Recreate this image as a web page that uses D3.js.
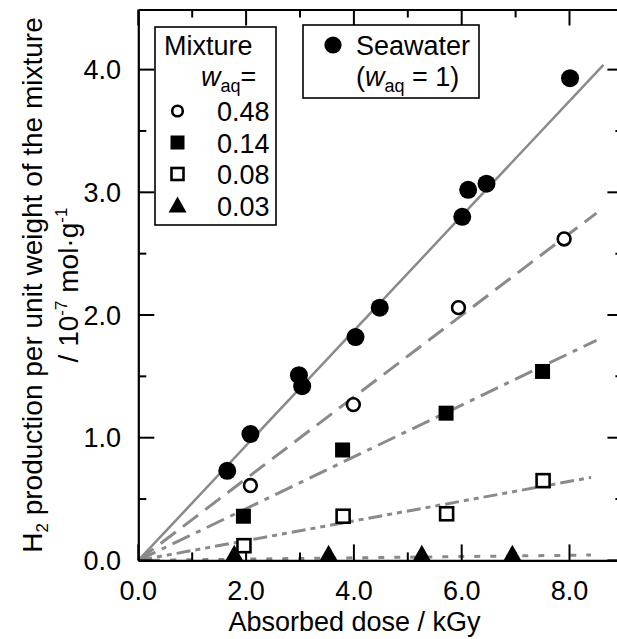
<!DOCTYPE html>
<html><head><meta charset="utf-8">
<script src="https://cdn.jsdelivr.net/npm/d3@7"></script>
<style>
html,body{margin:0;padding:0;background:#fff;}
svg{display:block;font-family:"Liberation Sans",Arial,Helvetica,sans-serif;}
</style></head>
<body>
<svg id="c" width="617" height="639"></svg>
<script>
// ---- data ----
const seaX = [1.65, 2.08, 2.98, 3.04, 4.03, 4.48, 6.01, 6.12, 6.46, 8.01];
const seaY = [0.73, 1.03, 1.51, 1.42, 1.82, 2.06, 2.80, 3.02, 3.07, 3.93];
const w48X = [2.08, 3.99, 5.94, 7.90];
const w48Y = [0.61, 1.27, 2.06, 2.62];
const w14X = [1.95, 3.79, 5.71, 7.50];
const w14Y = [0.36, 0.90, 1.20, 1.54];
const w08X = [1.96, 3.80, 5.72, 7.51];
const w08Y = [0.12, 0.36, 0.38, 0.65];
const w03X = [1.78, 3.53, 5.26, 6.94];
const w03Y = [0.04, 0.04, 0.04, 0.04];
const fitNames = ["1", "0.48", "0.14", "0.08", "0.03"];
const fitSlopes = [0.468, 0.333, 0.211, 0.0805, 0.0052];
const fitEndX = [8.63, 8.5, 8.5, 8.4, 8.4];
const xTicks = [0, 2, 4, 6, 8];
const yTicks = [0, 1, 2, 3, 4];
const legendLabels = ["0.48", "0.14", "0.08", "0.03"];

// ---- layout ----
const svg = d3.select("#c");
const L = 138.3, R = 623.4, T = 9.5, B = 560.4;
const x = d3.scaleLinear().domain([0, 9]).range([L, R]);
const y = d3.scaleLinear().domain([0, 4.49]).range([B, T]);
const grey = "#8a8a8a";
const fs = 27;

// fit lines
const dashes = [null, "19,9", "19,7,5,7", "14,5,5,5,5,5", "6,10"];
fitSlopes.forEach((s, i) => {
  const pts = [[0, 0], [fitEndX[i], s * fitEndX[i]]];
  svg.append("path")
    .attr("d", d3.line().x(d => x(d[0])).y(d => y(d[1]))(pts))
    .attr("stroke", grey).attr("stroke-width", i === 0 ? 2.5 : 3)
    .attr("fill", "none")
    .attr("stroke-dasharray", dashes[i]);
});

// axes frame
const gB = svg.append("g").attr("transform", `translate(0,${B})`)
  .call(d3.axisBottom(x).tickValues(d3.range(0, 10, 1)).tickSize(0).tickFormat(""));
const gT = svg.append("g").attr("transform", `translate(0,${T})`)
  .call(d3.axisTop(x).tickValues([]).tickSize(0));
const gL = svg.append("g").attr("transform", `translate(${L},0)`)
  .call(d3.axisLeft(y).tickValues([]).tickSize(0));
const gR = svg.append("g").attr("transform", `translate(${R},0)`)
  .call(d3.axisRight(y).tickValues([]).tickSize(0));
[gB, gT, gL, gR].forEach(g => {
  g.select(".domain").attr("stroke", "#000").attr("stroke-width", 2.2);
  g.selectAll(".tick").remove();
});

// ticks (inward, major + minor)
const xt = d3.range(0, 10, 1);
const yt = d3.range(0, 4.5, 0.5);
const tk = svg.append("g").attr("stroke", "#000").attr("stroke-width", 2);
xt.forEach(v => {
  const len = (v % 2 === 0) ? 16 : 8;
  tk.append("line").attr("x1", x(v)).attr("x2", x(v)).attr("y1", B).attr("y2", B - len);
  tk.append("line").attr("x1", x(v)).attr("x2", x(v)).attr("y1", T).attr("y2", T + len);
});
yt.forEach(v => {
  const len = (Math.abs(v - Math.round(v)) < 1e-6) ? 16 : 8;
  tk.append("line").attr("x1", L).attr("x2", L + len).attr("y1", y(v)).attr("y2", y(v));
  tk.append("line").attr("x1", R).attr("x2", R - len).attr("y1", y(v)).attr("y2", y(v));
});

// tick labels
svg.append("g").selectAll("text").data(xTicks).join("text")
  .attr("x", d => x(d)).attr("y", 599.5).attr("text-anchor", "middle")
  .attr("font-size", fs).text(d => d.toFixed(1));
svg.append("g").selectAll("text").data(yTicks).join("text")
  .attr("x", 121).attr("y", d => y(d) + 9.5).attr("text-anchor", "end")
  .attr("font-size", fs).text(d => d.toFixed(1));

// axis titles
svg.append("text").attr("x", 354.5).attr("y", 631).attr("text-anchor", "middle")
  .attr("font-size", fs).text("Absorbed dose / kGy");

const yl1 = svg.append("text").attr("transform", "translate(42,285) rotate(-90)")
  .attr("text-anchor", "middle").attr("font-size", 28);
yl1.append("tspan").text("H");
yl1.append("tspan").attr("font-size", 17).attr("dy", 6).text("2");
yl1.append("tspan").attr("dy", -6).text(" production per unit weight of the mixture");

const yl2 = svg.append("text").attr("transform", "translate(78,285) rotate(-90)")
  .attr("text-anchor", "middle").attr("font-size", 28);
yl2.append("tspan").text("/ 10");
yl2.append("tspan").attr("font-size", 17).attr("dy", -11).text("-7");
yl2.append("tspan").attr("dy", 11).text(" mol\u00B7g");
yl2.append("tspan").attr("font-size", 17).attr("dy", -11).text("-1");

// markers
function circles(xs, ys, r, filled) {
  svg.append("g").selectAll("circle").data(xs.map((v, i) => [v, ys[i]])).join("circle")
    .attr("cx", d => x(d[0])).attr("cy", d => y(d[1])).attr("r", r)
    .attr("fill", filled ? "#000" : "#fff").attr("stroke", "#000")
    .attr("stroke-width", filled ? 0 : 2.6);
}
function squares(xs, ys, s, filled) {
  svg.append("g").selectAll("rect").data(xs.map((v, i) => [v, ys[i]])).join("rect")
    .attr("x", d => x(d[0]) - s / 2).attr("y", d => y(d[1]) - s / 2)
    .attr("width", s).attr("height", s)
    .attr("fill", filled ? "#000" : "#fff").attr("stroke", "#000")
    .attr("stroke-width", filled ? 0 : 2.6);
}
function triangles(xs, ys, w, h) {
  svg.append("g").selectAll("path").data(xs.map((v, i) => [v, ys[i]])).join("path")
    .attr("d", d => {
      const cx = x(d[0]), cy = y(d[1]);
      return `M${cx},${cy - h * 2 / 3}L${cx + w / 2},${cy + h / 3}L${cx - w / 2},${cy + h / 3}Z`;
    }).attr("fill", "#000");
}
triangles(w03X, w03Y, 18, 16);
squares(w08X, w08Y, 13, false);
squares(w14X, w14Y, 15, true);
circles(w48X, w48Y, 6.4, false);
circles(seaX, seaY, 9, true);

// legend: Mixture box
const lg = svg.append("g");
lg.append("rect").attr("x", 155).attr("y", 27).attr("width", 121).attr("height", 198)
  .attr("fill", "#fff").attr("stroke", "#000").attr("stroke-width", 1.6);
lg.append("text").attr("x", 164).attr("y", 55).attr("font-size", fs).text("Mixture");
const wl = lg.append("text").attr("x", 201).attr("y", 86).attr("font-size", fs);
wl.append("tspan").attr("font-style", "italic").text("w");
wl.append("tspan").attr("font-size", 18).attr("dy", 6).text("aq");
wl.append("tspan").attr("dy", -6).text("=");
const rowBase = [121, 152.5, 184, 215.5];
legendLabels.forEach((t, i) => {
  lg.append("text").attr("x", 217).attr("y", rowBase[i]).attr("font-size", fs).text(t);
});
const sx = 177.5;
lg.append("circle").attr("cx", sx).attr("cy", rowBase[0] - 10).attr("r", 5.3)
  .attr("fill", "#fff").attr("stroke", "#000").attr("stroke-width", 2.6);
lg.append("rect").attr("x", sx - 7).attr("y", rowBase[1] - 17).attr("width", 14).attr("height", 14).attr("fill", "#000");
lg.append("rect").attr("x", sx - 6).attr("y", rowBase[2] - 16).attr("width", 12).attr("height", 12)
  .attr("fill", "#fff").attr("stroke", "#000").attr("stroke-width", 2.6);
lg.append("path").attr("d", `M${sx},${rowBase[3] - 19}L${sx + 9},${rowBase[3] - 3}L${sx - 9},${rowBase[3] - 3}Z`).attr("fill", "#000");

// legend: Seawater box
const lg2 = svg.append("g");
lg2.append("rect").attr("x", 303).attr("y", 25).attr("width", 176).attr("height", 73)
  .attr("fill", "#fff").attr("stroke", "#000").attr("stroke-width", 1.6);
lg2.append("circle").attr("cx", 333).attr("cy", 45).attr("r", 8.6).attr("fill", "#000");
lg2.append("text").attr("x", 356).attr("y", 55).attr("font-size", fs).text("Seawater");
const sl = lg2.append("text").attr("x", 356).attr("y", 86).attr("font-size", fs);
sl.append("tspan").text("(");
sl.append("tspan").attr("font-style", "italic").text("w");
sl.append("tspan").attr("font-size", 18).attr("dy", 6).text("aq");
sl.append("tspan").attr("dy", -6).text(" = 1)");
</script>
</body></html>
